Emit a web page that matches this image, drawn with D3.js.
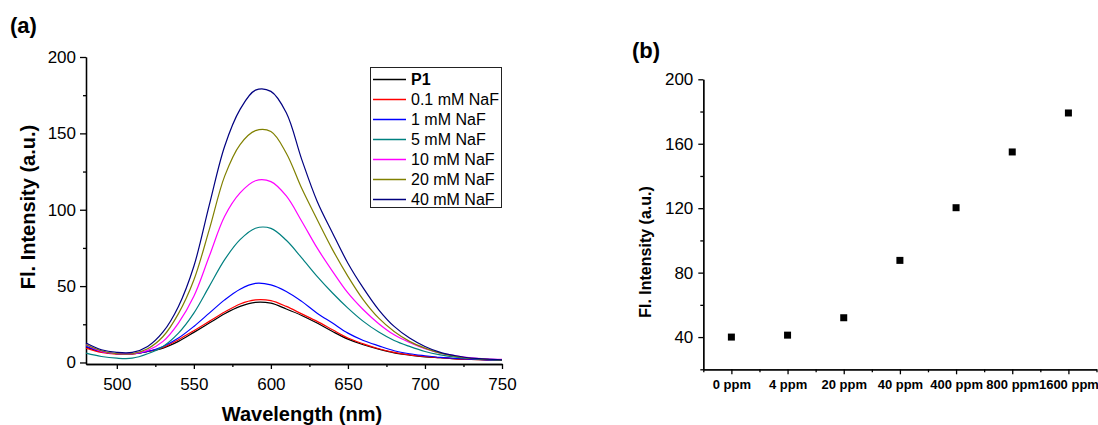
<!DOCTYPE html>
<html><head><meta charset="utf-8">
<script src="https://cdn.jsdelivr.net/npm/d3@7"></script>
<style>
body{margin:0;background:#fff;}
svg text{font-family:"Liberation Sans",Arial,sans-serif;fill:#000;}
</style></head>
<body><svg id="c" width="1098" height="425"></svg>
<script>
// ---- Panel (a) data ----
const wavelengths = [480,490,500,510,520,530,540,550,560,570,580,590,600,610,620,630,640,650,660,670,680,690,700,710,720,730,740,750];
const seriesNames = ["P1","0.1 mM NaF","1 mM NaF","5 mM NaF","10 mM NaF","20 mM NaF","40 mM NaF"];
const seriesColors = ["#000000","#ff0000","#0000ff","#008080","#ff00ff","#808000","#000080"];
const p1 =     [10,7,5.7,5.7,7.2,9.4,13.8,19.7,25.8,31.9,36.7,39.4,38.8,35,30.8,25.8,20.3,15.3,11.6,8.7,6.3,4.8,3.7,3.1,2.4,2,1.7,1.5];
const naf01 =  [9.4,6.6,5.5,5.5,7.2,9.8,14.9,20.8,26.9,33,38.3,41,40.5,36.7,31.8,26.9,21.4,16,12.2,9,6.6,5,3.9,3.1,2.4,2,1.7,1.5];
const naf1 =   [10.5,7.2,5.7,5.7,7.2,10.5,16,23.6,32.3,41,48,51.8,50.8,46.5,40,32.3,25.8,19.2,14.4,10.9,7.7,5.7,4.4,3.3,2.6,2.2,1.7,1.3];
const naf5 =   [6.1,3.9,2.8,2.8,5.7,10.5,19.2,32.3,49.8,67.3,80.4,87.9,87.8,80,68.5,56.4,45.5,35.6,26.9,19.9,14.4,10.5,7.2,5,3.5,2.6,2,1.5];
const naf10 =  [11.6,7.2,5.7,5.7,7.9,13.8,25.8,43.3,69.5,95.7,111,119,118.4,109,92.5,75,59.7,45.5,34.5,25.4,18.1,13.1,9,6.1,4.4,3.1,2.4,2];
const naf20 =  [11.6,7.7,5.7,5.7,9,17,32,54,87,122,142.7,151.8,151.2,137,114,93.6,73.9,56.4,41,29,20.3,13.8,9.4,6.1,3.9,2.6,2,1.5];
const naf40 =  [12.7,8.3,6.6,6.6,10.5,20,36.7,63,103,141.6,165.7,178.3,177.5,163.5,133,105.6,84.8,65,48.7,34.5,23.6,16,10.5,6.6,4.4,2.8,2.2,1.7];
const seriesValues = [p1,naf01,naf1,naf5,naf10,naf20,naf40];
const xTicksA = [500,550,600,650,700,750];
const xMinorA = [525,575,625,675,725];
const yTicksA = [0,50,100,150,200];
const yMinorA = [25,75,125,175];

// ---- Panel (b) data ----
const categoriesB = ["0 ppm","4 ppm","20 ppm","40 ppm","400 ppm","800 ppm","1600 ppm"];
const intensityB = [40,41.2,52,87.6,120.3,154.9,179.1];
const yTicksB = [40,80,120,160,200];
const yMinorB = [20,60,100,140,180];

const FONT = "'Liberation Sans', Arial, sans-serif";
const svg = d3.select("#c");

function styleAxis(g, fs, bold){
  g.selectAll("path.domain").attr("stroke","#000").attr("stroke-width",1.3);
  g.selectAll(".tick line").attr("stroke","#000").attr("stroke-width",1.3);
  g.selectAll("text").attr("font-size",fs).attr("font-family",FONT)
    .attr("font-weight",bold?"bold":"normal").attr("fill","#000");
}

// ===== Panel (a) =====
const xA = d3.scaleLinear().domain([480,750]).range([86,502]);
const yA = d3.scaleLinear().domain([-1,200]).range([364,57]);

const gxAm = svg.append("g").attr("transform","translate(0,364)")
  .call(d3.axisBottom(xA).tickValues(xMinorA).tickSize(3).tickSizeOuter(0).tickFormat(""));
styleAxis(gxAm,17);
const gxA = svg.append("g").attr("transform","translate(0,364)")
  .call(d3.axisBottom(xA).tickValues(xTicksA).tickSize(5).tickSizeOuter(0).tickPadding(9).tickFormat(d3.format("d")));
styleAxis(gxA,17);
const gyAm = svg.append("g").attr("transform","translate(86,0)")
  .call(d3.axisLeft(yA).tickValues(yMinorA).tickSize(3).tickSizeOuter(0).tickFormat(""));
styleAxis(gyAm,17);
const gyA = svg.append("g").attr("transform","translate(86,0)")
  .call(d3.axisLeft(yA).tickValues(yTicksA).tickSize(6).tickSizeOuter(0).tickPadding(4).tickFormat(d3.format("d")));
styleAxis(gyA,17);

const line = d3.line().x((d,i)=>xA(wavelengths[i])).y(d=>yA(d)).curve(d3.curveCatmullRom.alpha(0.5));
seriesValues.forEach((vals,k)=>{
  svg.append("path").datum(vals).attr("d",line).attr("fill","none")
    .attr("stroke",seriesColors[k]).attr("stroke-width",1.2);
});

svg.append("text").attr("x",10).attr("y",33).attr("font-family",FONT).attr("font-size",22).attr("font-weight","bold").text("(a)");
svg.append("text").attr("x",302).attr("y",421).attr("text-anchor","middle").attr("font-family",FONT)
  .attr("font-size",20).attr("font-weight","bold").text("Wavelength (nm)");
svg.append("text").attr("transform","translate(35,207) rotate(-90)").attr("text-anchor","middle").attr("font-family",FONT)
  .attr("font-size",20).attr("font-weight","bold").text("Fl. Intensity (a.u.)");

// legend
const leg = svg.append("g");
leg.append("rect").attr("x",370.5).attr("y",67.5).attr("width",131).attr("height",140)
  .attr("fill","#fff").attr("stroke","#222").attr("stroke-width",1);
seriesNames.forEach((n,k)=>{
  const cy = 79.5 + k*20;
  leg.append("line").attr("x1",373).attr("x2",406).attr("y1",cy).attr("y2",cy)
    .attr("stroke",seriesColors[k]).attr("stroke-width",1.5);
  leg.append("text").attr("x",411).attr("y",cy+5.8).attr("font-size",16).attr("font-family",FONT)
    .attr("font-weight",k===0?"bold":"normal").text(n);
});

// ===== Panel (b) =====
const xB = d3.scaleLinear().domain([-0.5,6.5]).range([703.3,1096.5]);
const yB = d3.scaleLinear().domain([20,200]).range([369.3,79.3]);
const idx = categoriesB.map((c,i)=>i);
const minorIdx = [-0.5,0.5,1.5,2.5,3.5,4.5,5.5,6.5];

const gxBm = svg.append("g").attr("transform","translate(0,369.3)")
  .call(d3.axisBottom(xB).tickValues(minorIdx).tickSize(3).tickSizeOuter(0).tickFormat(""));
styleAxis(gxBm,13,true);
const gxB = svg.append("g").attr("transform","translate(0,369.3)")
  .call(d3.axisBottom(xB).tickValues(idx).tickSize(5).tickSizeOuter(0).tickPadding(5).tickFormat(i=>categoriesB[i]));
styleAxis(gxB,13,true);
const gyBm = svg.append("g").attr("transform","translate(703.3,0)")
  .call(d3.axisLeft(yB).tickValues(yMinorB).tickSize(3).tickSizeOuter(0).tickFormat(""));
styleAxis(gyBm,17);
const gyB = svg.append("g").attr("transform","translate(703.3,0)")
  .call(d3.axisLeft(yB).tickValues(yTicksB).tickSize(5).tickSizeOuter(0).tickPadding(5).tickFormat(d3.format("d")));
styleAxis(gyB,17);

svg.append("g").selectAll("rect").data(intensityB).join("rect")
  .attr("x",(d,i)=>xB(i)-3.5).attr("y",d=>yB(d)-3.5).attr("width",7).attr("height",7).attr("fill","#000");

svg.append("text").attr("x",632).attr("y",58).attr("font-family",FONT).attr("font-size",22).attr("font-weight","bold").text("(b)");
svg.append("text").attr("transform","translate(651,252) rotate(-90)").attr("text-anchor","middle").attr("font-family",FONT)
  .attr("font-size",16).attr("font-weight","bold").text("Fl. Intensity (a.u.)");
</script></body></html>
